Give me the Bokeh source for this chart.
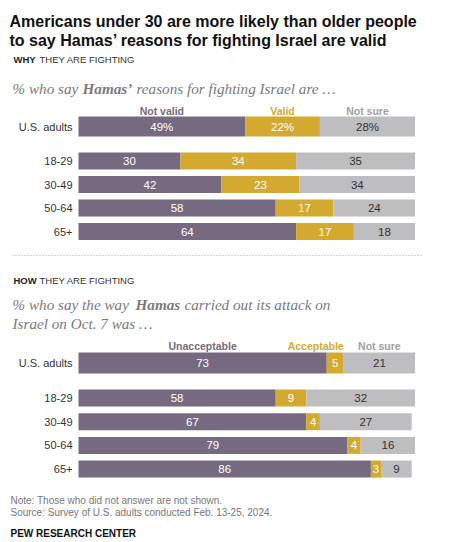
from bokeh.plotting import figure
from bokeh.models import Range1d, Label, ColumnDataSource
from bokeh.core.properties import value
from bokeh.embed import file_html
from bokeh.resources import INLINE

# ---------------- data ----------------
groups = ["U.S. adults", "18-29", "30-49", "50-64", "65+"]

why_cats = ["Not valid", "Valid", "Not sure"]
why_not_valid = [49, 30, 42, 58, 64]
why_valid = [22, 34, 23, 17, 17]
why_not_sure = [28, 35, 34, 24, 18]

how_cats = ["Unacceptable", "Acceptable", "Not sure"]
how_unacceptable = [73, 58, 67, 79, 86]
how_acceptable = [5, 9, 4, 4, 3]
how_not_sure = [21, 32, 27, 16, 9]

# ---------------- style ----------------
W, H = 455, 542
X0 = 78.0          # pixel where 0% sits
SCALE = 3.40       # pixels per percentage point
PURPLE = "#766a80"
GOLD = "#d4a92f"
GRAY = "#bebec0"
SANS = "Liberation Sans"
SERIF = "Liberation Serif"

p = figure(width=W, height=H, output_backend="svg", toolbar_location=None,
           x_axis_type=None, y_axis_type=None,
           x_range=Range1d(-X0 / SCALE, (W - X0) / SCALE),
           y_range=Range1d(H, 0),
           min_border=0, min_border_left=0, min_border_right=0,
           min_border_top=0, min_border_bottom=0)
p.outline_line_color = None
p.grid.visible = False
p.background_fill_color = "white"
p.border_fill_color = "white"


def lab(text, x, y, size, color="#222222", weight="normal", style="normal",
        font=SANS, align="left", baseline="alphabetic"):
    fs = "bold italic" if (weight == "bold" and style == "italic") else ("bold" if weight == "bold" else style)
    p.add_layout(Label(x=x, y=y, x_units="screen", y_units="data", text=text,
                       text_font=font, text_font_size=f"{size}px",
                       text_color=color, text_font_style=fs,
                       text_align=align, text_baseline=baseline))


def section(vals, cats, centers, heights, header_y, pct_first, header_align):
    colors = [PURPLE, GOLD, GRAY]
    txtcol = ["white", "white", "#333333"]
    n = len(groups)
    left = [0] * n
    for k, (series, col) in enumerate(zip(vals, colors)):
        right = [l + v for l, v in zip(left, series)]
        src = ColumnDataSource(dict(y=centers, left=left, right=right,
                                    h=heights, mid=[(a + b) / 2 for a, b in zip(left, right)],
                                    lbl=[(f"{v}%" if (i == 0 and pct_first) else str(v))
                                         for i, v in enumerate(series)]))
        p.hbar(y="y", left="left", right="right", height="h", source=src,
               fill_color=col, line_color=None)
        p.text(x="mid", y="y", text="lbl", source=src, text_align="center",
               text_baseline="middle", text_font=value(SANS), text_font_size="11.5px",
               text_color=txtcol[k])
        hcol = [PURPLE, GOLD, "#a0a0a0"][k]
        if header_align[k] == "right":
            hx = X0 + right[0] * SCALE
            lab(cats[k], hx, header_y, 10.5, color=hcol, weight="bold", align="right")
        else:
            hx = X0 + (left[0] + right[0]) / 2 * SCALE
            lab(cats[k], hx, header_y, 10.5, color=hcol, weight="bold", align="center")
        left = right
    for g, c in zip(groups, centers):
        lab(g, X0 - 6, c, 11, color="#333333", align="right", baseline="middle")


# ---------------- titles ----------------
lab("Americans under 30 are more likely than older people", 9, 21, 16, color="#111111", weight="bold")
lab("to say Hamas\u2019 reasons for fighting Israel are valid", 9, 40, 16, color="#111111", weight="bold")

lab("WHY", 13, 59, 9.5, color="#222222", weight="bold")
lab("THEY ARE FIGHTING", 39, 59, 9.5, color="#333333")

GS = "#7a7a7a"
SUB = 15.2
lab("% who say", 12, 88, SUB, color=GS, style="italic", font=SERIF)
lab("Hamas\u2019", 82, 88, SUB, color=GS, weight="bold", style="italic", font=SERIF)
lab("reasons for fighting Israel are \u2026", 136, 88, SUB, color=GS, style="italic", font=SERIF)

top_centers = [126, 160.5, 184, 207.5, 231]
top_h = [20, 17, 17, 17, 17]
section([why_not_valid, why_valid, why_not_sure], why_cats, top_centers, top_h,
        110, True, ["center", "center", "center"])

# separator
p.line(x=[(12 - X0) / SCALE, (423 - X0) / SCALE], y=[255, 255], line_color="#aaaaaa",
       line_dash="1 2", line_width=1)

lab("HOW", 13, 280, 9.5, color="#222222", weight="bold")
lab("THEY ARE FIGHTING", 39, 280, 9.5, color="#333333")

lab("% who say the way", 12, 304, SUB, color=GS, style="italic", font=SERIF)
lab("Hamas", 135, 304, SUB, color=GS, weight="bold", style="italic", font=SERIF)
lab("carried out its attack on", 184, 304, SUB, color=GS, style="italic", font=SERIF)
lab("Israel on Oct. 7 was \u2026", 12, 323, SUB, color=GS, style="italic", font=SERIF)

bot_centers = [362.5, 397.5, 421.2, 444.9, 468.6]
bot_h = [21, 17, 17, 17, 17]
section([how_unacceptable, how_acceptable, how_not_sure], how_cats, bot_centers, bot_h,
        345, False, ["center", "right", "center"])

# ---------------- notes ----------------
lab("Note: Those who did not answer are not shown.", 10, 500, 10, color="#777777")
lab("Source: Survey of U.S. adults conducted Feb. 13-25, 2024.", 10, 512, 10, color="#777777")
lab("PEW RESEARCH CENTER", 10, 533, 10, color="#111111", weight="bold")

open("out.html", "w").write(file_html(p, INLINE))
